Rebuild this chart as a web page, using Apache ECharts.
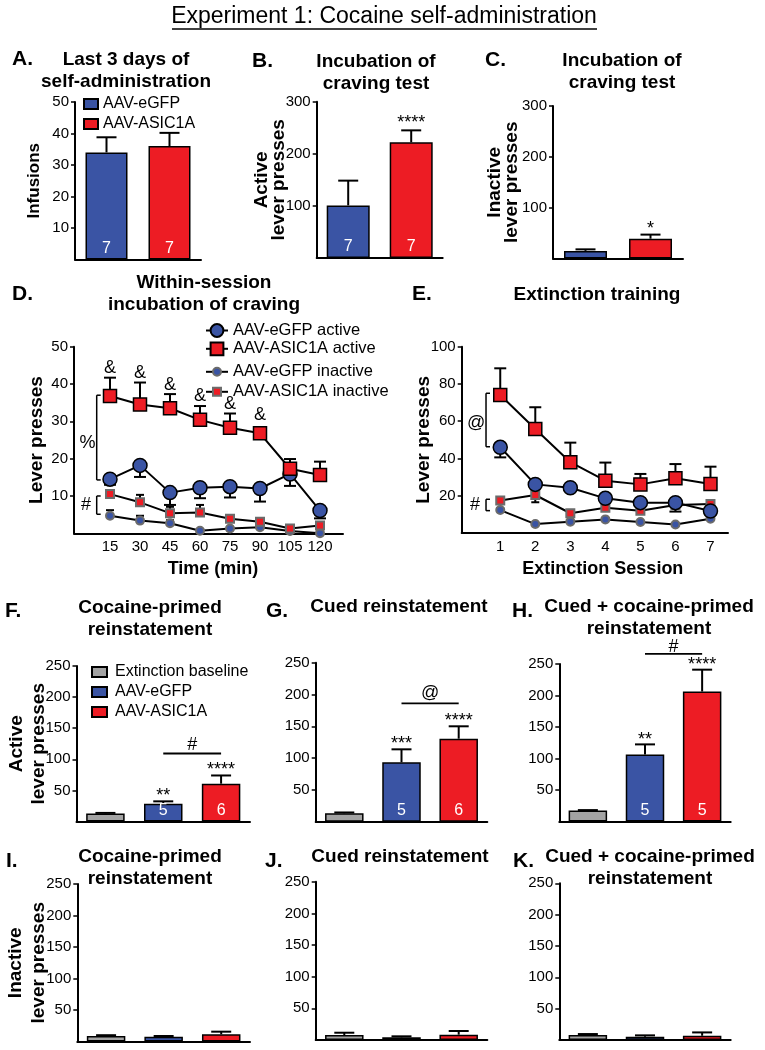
<!DOCTYPE html>
<html><head><meta charset="utf-8">
<script src="https://cdn.jsdelivr.net/npm/echarts@6.0.0/dist/echarts.min.js"></script>
<style>html,body{margin:0;padding:0;background:#fff}#c{width:765px;height:1050px}</style>
</head><body><div id="c"></div>
<script>
// ---------------- DATA ----------------
const groups2 = ['AAV-eGFP', 'AAV-ASIC1A'];
const infusionsMean = [34, 36];
const infusionsSem = [4.8, 4.2];
const activeIncMean = [101, 222];
const activeIncSem = [47.5, 23];
const inactiveIncMean = [15, 39];
const inactiveIncSem = [3, 8];
const nIncubation = ['7', '7'];

const timeMin = [15, 30, 45, 60, 75, 90, 105, 120];
const dGfpActive = [14.5, 18.2, 10.9, 12.2, 12.5, 12.0, 15.9, 6.1];
const dGfpActiveSem = [1.5, 3.1, 3.3, 2.8, 2.9, 3.5, 3.2, 2.1];
const dAsicActive = [36.8, 34.5, 33.5, 30.4, 28.3, 26.8, 17.3, 15.6];
const dAsicActiveSem = [4.9, 5.9, 3.8, 3.7, 3.8, 0.9, 2.6, 3.6];
const dGfpInactive = [4.7, 3.4, 2.7, 0.7, 1.3, 1.6, 0.6, 0];
const dGfpInactiveSem = [1.5, 1.3, 0.8, 0.4, 0.4, 0.5, 0.3, 0.2];
const dAsicInactive = [10.5, 8.3, 5.4, 5.6, 3.9, 3.1, 1.3, 2.1];
const dAsicInactiveSem = [1.1, 2.0, 1.7, 2.0, 0.6, 0.6, 0.4, 0.8];

const sessions = [1, 2, 3, 4, 5, 6, 7];
const eGfpActive = [46.0, 26.1, 24.3, 18.6, 16.3, 16.3, 11.8];
const eGfpActiveSem = [5.4, 1.5, 1.5, 1.5, 1.5, 4.8, 2.0];
const eAsicActive = [74.1, 55.8, 38.0, 28.1, 26.1, 29.4, 26.3];
const eAsicActiveSem = [14.3, 11.7, 10.5, 9.7, 5.6, 7.6, 9.3];
const eGfpInactive = [12.3, 4.8, 6.1, 7.3, 5.9, 4.6, 7.7];
const eGfpInactiveSem = [1.0, 0.5, 0.5, 0.5, 0.5, 0.5, 0.5];
const eAsicInactive = [17.4, 20.4, 10.6, 13.6, 12.0, 15.0, 15.6];
const eAsicInactiveSem = [1.5, 3.9, 1.0, 1.5, 1.5, 1.5, 1.0];

const reinGroups = ['Extinction baseline', 'AAV-eGFP', 'AAV-ASIC1A'];
const cocActiveMean = [12.8, 28.6, 60.8];   const cocActiveSem = [1.0, 3.8, 13.2];
const cueActiveMean = [13.3, 93.4, 130.5];  const cueActiveSem = [1.2, 20.4, 19.5];
const bothActiveMean = [17.3, 106.4, 206.3]; const bothActiveSem = [0.8, 16.0, 34.7];
const cocInactiveMean = [8.7, 7.7, 11.4];   const cocInactiveSem = [1.3, 1.0, 4.2];
const cueInactiveMean = [7.9, 4.2, 8.4];    const cueInactiveSem = [3.6, 1.6, 5.8];
const bothInactiveMean = [7.9, 5.3, 6.8];   const bothInactiveSem = [1.6, 2.1, 5.3];
const nCoc = ['', '5', '6'];
const nCue = ['', '5', '6'];
const nBoth = ['', '5', '5'];

// significance annotations  [x, y, text]
const annB = [[1, 258.8, '****']];
const annC = [[1, 58, '*']];
const annF = [[1, 41, '**'], [2, 82.5, '****']];
const annG = [[1, 122, '***'], [2, 158.7, '****']];
const annH = [[1, 129, '**'], [2, 247.8, '****']];
const sigF = [1, 2, 109.3, '#', 122.7];
const sigG = [1, 2, 186, '@', 202];
const sigH = [1, 2, 266, '#', 277];
const annD = [[15, 44.3, '&'], [30, 42.9, '&'], [45, 39.7, '&'], [60, 36.8, '&'], [75, 34.6, '&'], [90, 31.7, '&']];
const bracketsD = [[8.35, 37, 14.3, '%', 3.75, 24.3], [8.35, 10, 5.1, '#', 3, 7.6]];
const bracketsE = [[0.594, 75, 46.3, '@', 0.31, 58.9], [0.594, 18.1, 12.0, '#', 0.28, 15.0]];

// ---------------- STYLE / LAYOUT ----------------
const FONT = '"Liberation Sans", Arial, Helvetica, sans-serif';
const BLUE = '#3a54a4', RED = '#ed1c24', GRAY = '#a3a3a3';
const gridPos = [
  [75, 102, 126, 157.5],      // A
  [316.7, 101.7, 126, 156.3], // B
  [553, 106, 130, 152.5],     // C
  [74, 346.7, 269, 186.6],    // D
  [461.7, 346.7, 266.3, 186.3], // E
  [76.5, 666, 173.5, 155.5],  // F
  [315.7, 662.7, 171.6, 159], // G
  [559.3, 664, 171.4, 157.5], // H
  [77.3, 884, 172.7, 157.5],  // I
  [315.7, 881.7, 171.6, 158.3], // J
  [559.3, 883.3, 171.4, 156.7]  // K
];

function yAx(gi, max, interval, name, gap, size, lh) {
  return {
    type: 'value', gridIndex: gi, min: 0, max: max, interval: interval,
    axisLine: {show: true, onZero: false, lineStyle: {color: '#000', width: 2}},
    axisTick: {show: true, length: 4, lineStyle: {color: '#000', width: 1.5}},
    axisLabel: {showMinLabel: false, color: '#000', fontSize: 15, margin: 6, fontFamily: FONT},
    splitLine: {show: false},
    name: name, nameLocation: 'middle', nameRotate: 90, nameGap: gap, nameMoveOverlap: false,
    nameTextStyle: {fontSize: size || 19, fontWeight: 'bold', color: '#000', lineHeight: lh || 18, fontFamily: FONT}
  };
}
function xCat(gi, cats) {
  return {
    type: 'category', gridIndex: gi, data: cats,
    axisLine: {onZero: false, lineStyle: {color: '#000', width: 2}},
    axisTick: {show: false}, axisLabel: {show: false}
  };
}
function xVal(gi, min, max, ticks, name, pad) {
  return {
    type: 'value', gridIndex: gi, min: min, max: max,
    axisLine: {onZero: false, lineStyle: {color: '#000', width: 2}},
    axisTick: {show: false},
    axisLabel: {customValues: ticks, color: '#000', fontSize: 15, margin: 6, fontFamily: FONT},
    splitLine: {show: false},
    name: name, nameLocation: 'middle', nameGap: 27, nameMoveOverlap: false,
    nameTextStyle: {fontSize: 18, fontWeight: 'bold', color: '#000', padding: pad, fontFamily: FONT}
  };
}
function barSet(gi, names, colors, means, ns, bw) {
  return names.map(function (nm, k) {
    return {
      type: 'bar', name: nm, xAxisIndex: gi, yAxisIndex: gi, barWidth: bw, barGap: '-100%',
      data: means.map(function (v, i) { return i === k ? v : '-'; }),
      itemStyle: {color: colors[k], borderColor: '#000', borderWidth: 1.5},
      label: {show: !!(ns && ns[k]), position: 'insideBottom', distance: 3, color: '#fff',
        fontSize: 16, fontFamily: FONT, formatter: function () { return ns ? ns[k] : ''; }},
      z: 2, silent: true
    };
  });
}
function errSeries(gi, xs, means, sems, dirs, cap) {
  return {
    type: 'custom', xAxisIndex: gi, yAxisIndex: gi, silent: true, z: 1, clip: false,
    data: xs.map(function (x, i) { return [x, means[i]]; }), encode: {x: 0, y: 1},
    renderItem: function (params, api) {
      const i = params.dataIndex, x = xs[i], m = means[i], e = sems[i];
      const dir = Array.isArray(dirs) ? dirs[i] : dirs;
      const p0 = api.coord([x, m]), p1 = api.coord([x, m + dir * e]);
      const st = {stroke: '#000', lineWidth: 2};
      return {type: 'group', children: [
        {type: 'line', shape: {x1: p0[0], y1: p0[1], x2: p1[0], y2: p1[1]}, style: st},
        {type: 'line', shape: {x1: p1[0] - cap / 2, y1: p1[1], x2: p1[0] + cap / 2, y2: p1[1]}, style: st}
      ]};
    }
  };
}
function textSeries(gi, items, size) {
  return {
    type: 'custom', xAxisIndex: gi, yAxisIndex: gi, silent: true, z: 6, clip: false,
    data: items.map(function (d) { return [d[0], d[1]]; }), encode: {x: 0, y: 1},
    renderItem: function (params, api) {
      const d = items[params.dataIndex];
      const pt = api.coord([d[0], d[1]]);
      return {type: 'text', x: pt[0], y: pt[1],
        style: {text: d[2], fill: '#000', font: size + 'px ' + FONT, align: 'center', verticalAlign: 'middle'}};
    }
  };
}
function sigSeries(gi, s) {
  return {
    type: 'custom', xAxisIndex: gi, yAxisIndex: gi, silent: true, z: 6, clip: false,
    data: [[s[0], s[2]]], encode: {x: 0, y: 1},
    renderItem: function (params, api) {
      const a = api.coord([s[0], s[2]]), b = api.coord([s[1], s[2]]), t = api.coord([s[0], s[4]]);
      return {type: 'group', children: [
        {type: 'line', shape: {x1: a[0], y1: a[1], x2: b[0], y2: b[1]}, style: {stroke: '#000', lineWidth: 1.8}},
        {type: 'text', x: (a[0] + b[0]) / 2, y: t[1],
          style: {text: s[3], fill: '#000', font: '18px ' + FONT, align: 'center', verticalAlign: 'middle'}}
      ]};
    }
  };
}
function bracketSeries(gi, items) {
  return {
    type: 'custom', xAxisIndex: gi, yAxisIndex: gi, silent: true, z: 6, clip: false,
    data: items.map(function (d) { return [d[0], d[1]]; }), encode: {x: 0, y: 1},
    renderItem: function (params, api) {
      const d = items[params.dataIndex];
      const a = api.coord([d[0], d[1]]), b = api.coord([d[0], d[2]]), l = api.coord([d[4], d[5]]);
      const st = {stroke: '#000', lineWidth: 1.5};
      return {type: 'group', children: [
        {type: 'line', shape: {x1: a[0], y1: a[1], x2: b[0], y2: b[1]}, style: st},
        {type: 'line', shape: {x1: a[0], y1: a[1], x2: a[0] + 4, y2: a[1]}, style: st},
        {type: 'line', shape: {x1: b[0], y1: b[1], x2: b[0] + 4, y2: b[1]}, style: st},
        {type: 'text', x: l[0], y: l[1],
          style: {text: d[3], fill: '#000', font: '18px ' + FONT, align: 'center', verticalAlign: 'middle'}}
      ]};
    }
  };
}
function lineSeries(gi, name, xs, ys, symbol, size, fill, border) {
  return {
    type: 'line', name: name, xAxisIndex: gi, yAxisIndex: gi,
    data: xs.map(function (x, i) { return [x, ys[i]]; }),
    symbol: symbol, symbolSize: size, showAllSymbol: true,
    itemStyle: {color: fill, borderColor: border, borderWidth: border === '#000' ? 1.5 : 2},
    lineStyle: {color: '#000', width: 2}, z: 3, silent: true
  };
}

const panelTitles = [
  ['Last 3 days of\nself-administration', 126, 49],
  ['Incubation of\ncraving test', 376, 51],
  ['Incubation of\ncraving test', 622, 50],
  ['Within-session\nincubation of craving', 204, 272],
  ['Extinction training', 597, 284],
  ['Cocaine-primed\nreinstatement', 150, 597],
  ['Cued reinstatement', 399, 596],
  ['Cued + cocaine-primed\nreinstatement', 649, 596],
  ['Cocaine-primed\nreinstatement', 150, 846],
  ['Cued reinstatement', 400, 846],
  ['Cued + cocaine-primed\nreinstatement', 650, 846]
];
const panelLetters = [
  ['A.', 12, 49], ['B.', 252, 51], ['C.', 485, 50], ['D.', 12, 284], ['E.', 412, 284],
  ['F.', 5, 601], ['G.', 266, 601], ['H.', 512, 601], ['I.', 6, 851], ['J.', 265, 851], ['K.', 513, 851]
];

const titles = [{
  text: 'Experiment 1: Cocaine self-administration', left: 384, top: 5, textAlign: 'center', padding: 0,
  textStyle: {fontSize: 23, fontWeight: 'normal', color: '#000', fontFamily: FONT}
}];
panelTitles.forEach(function (t) {
  titles.push({text: t[0], left: t[1], top: t[2], textAlign: 'center', padding: 0,
    textStyle: {fontSize: 19, fontWeight: 'bold', color: '#000', lineHeight: 22, fontFamily: FONT}});
});
panelLetters.forEach(function (t) {
  titles.push({text: t[0], left: t[1], top: t[2], padding: 0,
    textStyle: {fontSize: 21, fontWeight: 'bold', color: '#000', fontFamily: FONT}});
});

const series = [].concat(
  barSet(0, groups2, [BLUE, RED], infusionsMean, nIncubation, 42),
  [errSeries(0, [0, 1], infusionsMean, infusionsSem, 1, 20)],
  barSet(1, groups2, [BLUE, RED], activeIncMean, nIncubation, 43),
  [errSeries(1, [0, 1], activeIncMean, activeIncSem, 1, 20), textSeries(1, annB, 18)],
  barSet(2, groups2, [BLUE, RED], inactiveIncMean, null, 43),
  [errSeries(2, [0, 1], inactiveIncMean, inactiveIncSem, 1, 20), textSeries(2, annC, 18)],
  [
    errSeries(3, timeMin, dGfpActive, dGfpActiveSem, -1, 12),
    errSeries(3, timeMin, dAsicActive, dAsicActiveSem, 1, 12),
    errSeries(3, timeMin, dGfpInactive, dGfpInactiveSem, 1, 8),
    errSeries(3, timeMin, dAsicInactive, dAsicInactiveSem, 1, 8),
    lineSeries(3, 'AAV-eGFP inactive', timeMin, dGfpInactive, 'circle', 8, BLUE, '#6b6b6b'),
    lineSeries(3, 'AAV-ASIC1A inactive', timeMin, dAsicInactive, 'rect', 8, RED, '#6b6b6b'),
    lineSeries(3, 'AAV-eGFP active', timeMin, dGfpActive, 'circle', 14, BLUE, '#000'),
    lineSeries(3, 'AAV-ASIC1A active', timeMin, dAsicActive, 'rect', 13, RED, '#000'),
    textSeries(3, annD, 18), bracketSeries(3, bracketsD),
    errSeries(4, sessions, eGfpActive, eGfpActiveSem, -1, 12),
    errSeries(4, sessions, eAsicActive, eAsicActiveSem, 1, 12),
    errSeries(4, sessions, eGfpInactive, eGfpInactiveSem, 1, 8),
    errSeries(4, sessions, eAsicInactive, eAsicInactiveSem, -1, 8),
    lineSeries(4, 'AAV-eGFP inactive', sessions, eGfpInactive, 'circle', 8, BLUE, '#6b6b6b'),
    lineSeries(4, 'AAV-ASIC1A inactive', sessions, eAsicInactive, 'rect', 8, RED, '#6b6b6b'),
    lineSeries(4, 'AAV-eGFP active', sessions, eGfpActive, 'circle', 14, BLUE, '#000'),
    lineSeries(4, 'AAV-ASIC1A active', sessions, eAsicActive, 'rect', 13, RED, '#000'),
    bracketSeries(4, bracketsE)
  ],
  barSet(5, reinGroups, [GRAY, BLUE, RED], cocActiveMean, nCoc, 38.5),
  [errSeries(5, [0, 1, 2], cocActiveMean, cocActiveSem, 1, 20), textSeries(5, annF, 18), sigSeries(5, sigF)],
  barSet(6, reinGroups, [GRAY, BLUE, RED], cueActiveMean, nCue, 38.5),
  [errSeries(6, [0, 1, 2], cueActiveMean, cueActiveSem, 1, 20), textSeries(6, annG, 18), sigSeries(6, sigG)],
  barSet(7, reinGroups, [GRAY, BLUE, RED], bothActiveMean, nBoth, 38.5),
  [errSeries(7, [0, 1, 2], bothActiveMean, bothActiveSem, 1, 20), textSeries(7, annH, 18), sigSeries(7, sigH)],
  barSet(8, reinGroups, [GRAY, BLUE, RED], cocInactiveMean, null, 38.5),
  [errSeries(8, [0, 1, 2], cocInactiveMean, cocInactiveSem, 1, 20)],
  barSet(9, reinGroups, [GRAY, BLUE, RED], cueInactiveMean, null, 38.5),
  [errSeries(9, [0, 1, 2], cueInactiveMean, cueInactiveSem, 1, 20)],
  barSet(10, reinGroups, [GRAY, BLUE, RED], bothInactiveMean, null, 38.5),
  [errSeries(10, [0, 1, 2], bothInactiveMean, bothInactiveSem, 1, 20)]
);

const legendText = {color: '#000', fontFamily: FONT};
const option = {
  animation: false,
  backgroundColor: '#fff',
  textStyle: {fontFamily: FONT},
  title: titles,
  grid: gridPos.map(function (g) {
    return {left: g[0], top: g[1], width: g[2], height: g[3], containLabel: false, outerBoundsMode: 'none'};
  }),
  xAxis: [
    xCat(0, groups2), xCat(1, groups2), xCat(2, groups2),
    xVal(3, -3, 131.5, timeMin, 'Time (min)', [0, 0, 0, 9]),
    xVal(4, -0.1, 7.5, sessions, 'Extinction Session', [0, 0, 0, 16]),
    xCat(5, reinGroups), xCat(6, reinGroups), xCat(7, reinGroups),
    xCat(8, reinGroups), xCat(9, reinGroups), xCat(10, reinGroups)
  ],
  yAxis: [
    yAx(0, 50, 10, 'Infusions', 32, 17),
    yAx(1, 300, 100, 'Active\nlever presses', 29.5, 19, 17),
    yAx(2, 300, 100, 'Inactive\nlever presses', 33, 19, 17),
    yAx(3, 50, 10, 'Lever presses', 28.3),
    yAx(4, 100, 20, 'Lever presses', 29.4),
    yAx(5, 250, 50, 'Active\nlever presses', 27, 19, 22),
    yAx(6, 250, 50, '', 0),
    yAx(7, 250, 50, '', 0),
    yAx(8, 250, 50, 'Inactive\nlever presses', 27.3, 19, 23),
    yAx(9, 250, 50, '', 0),
    yAx(10, 250, 50, '', 0)
  ],
  legend: [
    {data: groups2, orient: 'vertical', left: 83, top: 96, itemWidth: 14, itemHeight: 10, itemGap: 4,
      padding: 0, selectedMode: false, icon: 'rect', textStyle: Object.assign({fontSize: 16}, legendText)},
    {data: reinGroups, orient: 'vertical', left: 91, top: 664, itemWidth: 15, itemHeight: 10, itemGap: 4,
      padding: 0, selectedMode: false, icon: 'rect', textStyle: Object.assign({fontSize: 16, padding: [0, 0, 0, 3]}, legendText)},
    {data: ['AAV-eGFP active'], left: 205, top: 322, itemWidth: 22, itemHeight: 16, padding: 0,
      selectedMode: false, textStyle: Object.assign({fontSize: 16.5}, legendText)},
    {data: ['AAV-ASIC1A active'], left: 205, top: 340.3, itemWidth: 22, itemHeight: 16, padding: 0,
      selectedMode: false, textStyle: Object.assign({fontSize: 16.5}, legendText)},
    {data: ['AAV-eGFP inactive'], left: 205, top: 363.3, itemWidth: 22, itemHeight: 10, padding: 0,
      selectedMode: false, textStyle: Object.assign({fontSize: 16.5}, legendText)},
    {data: ['AAV-ASIC1A inactive'], left: 205, top: 383.3, itemWidth: 22, itemHeight: 10, padding: 0,
      selectedMode: false, textStyle: Object.assign({fontSize: 16.5}, legendText)}
  ],
  graphic: [
    {type: 'line', shape: {x1: 172, y1: 29, x2: 597, y2: 29}, style: {stroke: '#000', lineWidth: 1.3}, silent: true}
  ],
  series: series
};

const chart = echarts.init(document.getElementById('c'), null, {renderer: 'canvas'});
chart.setOption(option);
</script></body></html>
